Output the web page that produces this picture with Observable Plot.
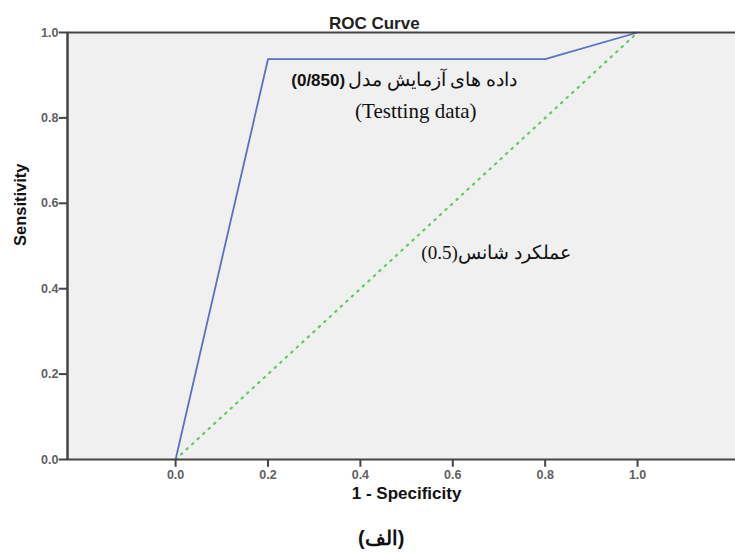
<!DOCTYPE html>
<html>
<head>
<meta charset="utf-8">
<script src="https://cdn.jsdelivr.net/npm/d3@7"></script>
<script src="https://cdn.jsdelivr.net/npm/@observablehq/plot@0.6"></script>
<style>
  html, body { margin: 0; padding: 0; background: #fff; }
</style>
</head>
<body>
<div id="chart"></div>
<script>
// ROC curve (testing data)
const rocFpr = [0, 0.2, 0.8, 1.0];
const rocTpr = [0, 0.9375, 0.9375, 1.0];
// chance line
const chanceFpr = [0, 1];
const chanceTpr = [0, 1];
// ticks
const xTicks = [0, 0.2, 0.4, 0.6, 0.8, 1.0];
const yTicks = [0, 0.2, 0.4, 0.6, 0.8, 1.0];
// texts
const titleText = "ROC Curve";
const xLabel = "1 - Specificity";
const yLabel = "Sensitivity";
const captionText = "(الف)";
const aucText = "(0/850)";
const testPersian = "داده های آزمایش مدل";
const testEnglish = "(Testting data)";
const chanceText = "(0.5)عملکرد شانس";

const roc = rocFpr.map((x, i) => ({x, y: rocTpr[i]}));
const chance = chanceFpr.map((x, i) => ({x, y: chanceTpr[i]}));

const fmt = d3.format(".1f");
const sans = "Arial, 'Liberation Sans', sans-serif";
const serif = "'Times New Roman', 'Liberation Serif', 'DejaVu Serif', serif";
const axisColor = "#444444";
const xMin = -0.234;

const chart = Plot.plot({
  width: 735,
  height: 554,
  marginLeft: 67,
  marginRight: 0,
  marginTop: 32,
  marginBottom: 95,
  style: {background: "#fff", fontFamily: sans, overflow: "visible"},
  x: {domain: [xMin, 1.212]},
  y: {domain: [0, 1]},
  marks: [
    Plot.frame({fill: "#f0f0f0", stroke: null}),
    Plot.line(chance, {x: "x", y: "y", stroke: "#5dcc5d", strokeWidth: 2.2, strokeDasharray: "1.5,6", strokeLinecap: "round"}),
    Plot.line(roc, {x: "x", y: "y", stroke: "#5870c8", strokeWidth: 1.8}),
    Plot.ruleY([0], {stroke: axisColor, strokeWidth: 2}),
    Plot.ruleY([1], {stroke: axisColor, strokeWidth: 2}),
    Plot.ruleX([xMin], {stroke: axisColor, strokeWidth: 2.5}),
    // tick marks
    Plot.link(xTicks, {x1: d => d, x2: d => d, y1: () => 0, y2: () => -0.017, stroke: axisColor, strokeWidth: 2}),
    Plot.link(yTicks, {y1: d => d, y2: d => d, x1: () => xMin, x2: () => xMin - 0.019, stroke: axisColor, strokeWidth: 2}),
    Plot.axisX({ticks: xTicks, tickFormat: fmt, tickSize: 7, tickPadding: 4, stroke: "none", fill: "#606060", fontSize: 12.5, fontWeight: "bold", label: null}),
    Plot.axisY({ticks: yTicks, tickFormat: fmt, tickSize: 8, tickPadding: 1, stroke: "none", fill: "#606060", fontSize: 12.5, fontWeight: "bold", label: null}),
    // titles
    Plot.text([titleText], {x: 0.43, frameAnchor: "top", dy: -16, text: d => d, fontSize: 17, fontWeight: "bold", fill: "#222"}),
    Plot.text([xLabel], {x: 0.5, frameAnchor: "bottom", dy: 39, text: d => d, fontSize: 17, fontWeight: "bold", fill: "#111"}),
    Plot.text([yLabel], {y: 0.5, frameAnchor: "left", dx: -47, rotate: -90, text: d => d, fontSize: 16.5, fontWeight: "bold", fill: "#111"}),
    Plot.text([captionText], {x: 0.445, frameAnchor: "bottom", dy: 85, text: d => d, fontSize: 20, fontWeight: "bold", fill: "#111"}),
    // annotations
    Plot.text([aucText], {x: 0.367, y: 0.888, text: d => d, textAnchor: "end", fontSize: 17, fontWeight: "bold", fill: "#111"}),
    Plot.text([testPersian], {x: 0.373, y: 0.888, text: d => d, textAnchor: "start", fontSize: 19, fontFamily: serif, fill: "#111"}),
    Plot.text([testEnglish], {x: 0.52, y: 0.815, text: d => d, fontSize: 21, fontFamily: serif, fill: "#111", letterSpacing: 0.4}),
    Plot.text([chanceText], {x: 0.532, y: 0.483, text: d => d, textAnchor: "start", fontSize: 19, fontFamily: serif, fill: "#111"})
  ]
});

document.getElementById("chart").appendChild(chart);
</script>
</body>
</html>
